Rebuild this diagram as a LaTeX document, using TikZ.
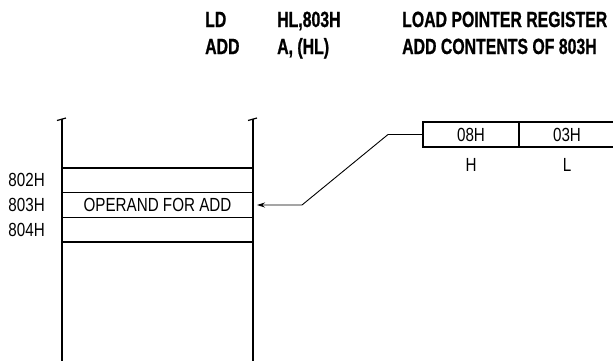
\documentclass[tikz,border=0pt]{standalone}
\usepackage{fontspec}
\setmainfont{Liberation Sans}
\newfontfamily\condfont[FakeStretch=0.8]{Liberation Sans}
\newfontfamily\codefont[FakeStretch=0.72, BoldFeatures={FakeBold=0.8}]{Liberation Sans}
\usetikzlibrary{positioning,arrows.meta}

\begin{document}
\begin{tikzpicture}[x=1pt, y=-1pt,
  every node/.style={font=\condfont\fontsize{19}{21}\selectfont, inner sep=0pt},
  code/.style={font=\codefont\bfseries\fontsize{22}{24}\selectfont, anchor=base west},
  cell/.style={draw, line width=1.6pt, outer sep=0pt, minimum width=191pt, minimum height=24.7pt},
  reg/.style={draw, line width=1.6pt, outer sep=0pt, minimum width=96pt, minimum height=25pt},
  wall/.style={line width=1.6pt}]
\useasboundingbox (0,0) rectangle (613,360);
\clip (0,0) rectangle (613,360);
% instruction listing
\node[code] (ldop) at (205,27) {LD};
\node[code] (ldarg) at (277,27) {HL,803H};
\node[code] (ldnote) at (402,27) {LOAD POINTER REGISTER};
\node[code] (addop) at (205,54) {ADD};
\node[code] (addarg) at (277,54) {A, (HL)};
\node[code] (addnote) at (402,54) {ADD CONTENTS OF 803H};
% memory column
\node[cell] (cell802) at (157.5,180.3) {};
\node[cell, below=0pt of cell802] (cell803) {OPERAND FOR ADD};
\node[cell, below=0pt of cell803] (cell804) {};
\draw[wall] (cell802.west |- 0,119) -- (cell802.west |- 0,362);
\draw[wall] (cell802.east |- 0,119) -- (cell802.east |- 0,362);
\draw[line width=1.2pt] (57,120.5) -- (66,118); \draw[line width=1.2pt] (248,120.5) -- (257,118);
\node[left=17pt of cell802] (addr802) {802H};
\node[left=17pt of cell803] (addr803) {803H};
\node[left=17pt of cell804] (addr804) {804H};
% HL register pair
\node[reg] (regH) at (471,134.5) {08H};
\node[reg, right=0pt of regH] (regL) {03H};
\node[below=11pt of regH] (nameH) {H};
\node[below=11pt of regL] (nameL) {L};
% pointer
\coordinate (bendhi) at (388,134.5);
\coordinate (bendlo) at (302,205);
\draw[line width=0.9pt, -{Stealth[length=8pt,width=5pt]}] (regH.west) -- (bendhi) -- (bendlo) -- ([xshift=4pt]cell803.east);
\end{tikzpicture}
\end{document}
